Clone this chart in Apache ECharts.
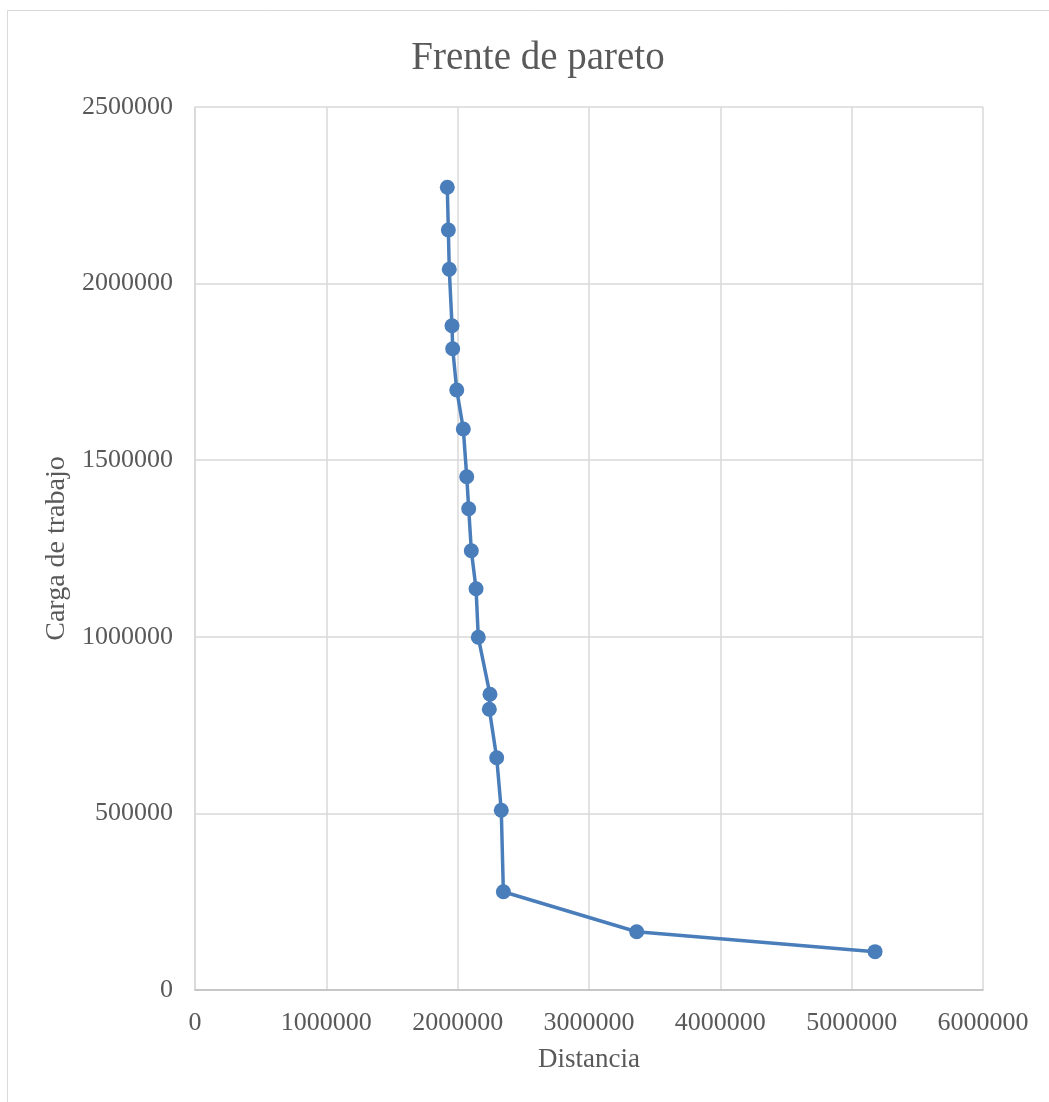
<!DOCTYPE html>
<html>
<head>
<meta charset="utf-8">
<script src="https://cdn.jsdelivr.net/npm/echarts@6/dist/echarts.min.js"></script>
<style>
  html, body { margin: 0; padding: 0; background: #ffffff; }
  #chart { width: 1049px; height: 1102px; }
</style>
</head>
<body>
<div id="chart"></div>
<script>
// Pareto front: distance vs. workload for each solution
const distancia = [
  1921000, 1929000, 1936000, 1957000, 1962000, 1993000, 2043000, 2069000,
  2084000, 2104000, 2140000, 2157000, 2246000, 2241000, 2297000, 2332000,
  2348000, 3363000, 5178000
];
const cargaTrabajo = [
  2272600, 2151800, 2040500, 1880800, 1815700, 1698800, 1588300, 1453300,
  1362700, 1243800, 1136200, 998600, 837200, 794700, 657700, 508800,
  278300, 165000, 108500
];
const xTicks = { min: 0, max: 6000000, interval: 1000000 };
const yTicks = { min: 0, max: 2500000, interval: 500000 };

const points = distancia.map((d, i) => [d, cargaTrabajo[i]]);

const font = '"Liberation Serif", "DejaVu Serif", serif';
const textColor = '#595959';
const plainNumber = v => String(v);

const chart = echarts.init(document.getElementById('chart'), null, { renderer: 'canvas' });
chart.setOption({
  backgroundColor: '#ffffff',
  animation: false,
  graphic: [{
    type: 'rect',
    shape: { x: 7.5, y: 10.5, width: 1100, height: 1200 },
    style: { fill: 'none', stroke: '#d9d9d9', lineWidth: 1 },
    silent: true
  }],
  title: {
    text: 'Frente de pareto',
    left: 533,
    top: 34,
    textAlign: 'center',
    textStyle: { fontFamily: font, fontSize: 39, fontWeight: 'normal', color: textColor }
  },
  grid: { left: 195, top: 107, width: 788, height: 883, containLabel: false },
  xAxis: {
    type: 'value',
    min: xTicks.min, max: xTicks.max, interval: xTicks.interval,
    name: 'Distancia',
    nameLocation: 'middle',
    nameGap: 56,
    nameTextStyle: { fontFamily: font, fontSize: 27, color: textColor },
    axisLine: { show: true, lineStyle: { color: '#bfbfbf', width: 1.5 } },
    axisTick: { show: false },
    axisLabel: { fontFamily: font, fontSize: 26, color: textColor, margin: 20, formatter: plainNumber },
    splitLine: { show: true, lineStyle: { color: '#d9d9d9', width: 1.5 } }
  },
  yAxis: {
    type: 'value',
    min: yTicks.min, max: yTicks.max, interval: yTicks.interval,
    name: 'Carga de trabajo',
    nameLocation: 'middle',
    nameGap: 107,
    nameTextStyle: { fontFamily: font, fontSize: 28, color: textColor },
    axisLine: { show: true, lineStyle: { color: '#d9d9d9', width: 1.5 } },
    axisTick: { show: false },
    axisLabel: { fontFamily: font, fontSize: 26, color: textColor, margin: 22, formatter: plainNumber },
    splitLine: { show: true, lineStyle: { color: '#d9d9d9', width: 1.5 } }
  },
  series: [{
    type: 'line',
    data: points,
    symbol: 'circle',
    symbolSize: 15,
    lineStyle: { color: '#4a7ebb', width: 3.5 },
    itemStyle: { color: '#4a7ebb' }
  }]
});
</script>
</body>
</html>
